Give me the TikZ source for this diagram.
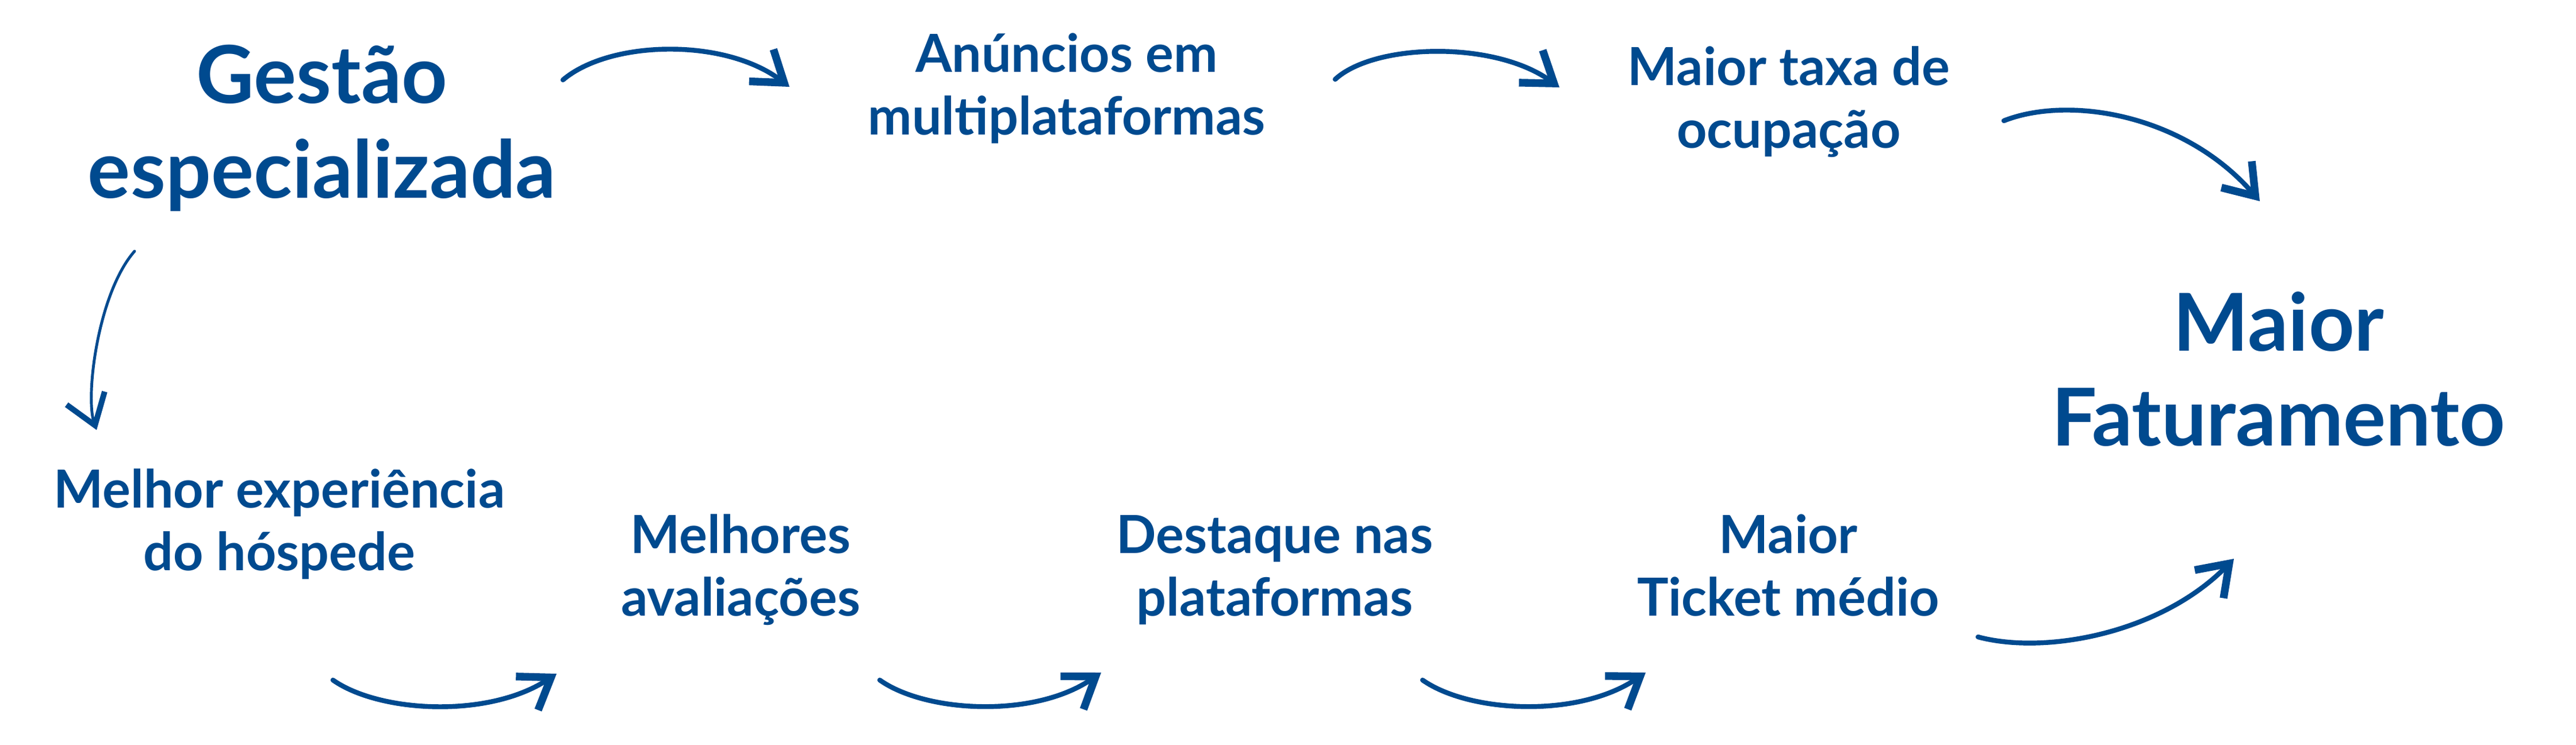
\documentclass[tikz,border=0pt]{standalone}
\usepackage{fontspec}
\setmainfont{Lato}
\usetikzlibrary{arrows.meta}
\definecolor{azul}{HTML}{004A8F}

\begin{document}
\begin{tikzpicture}[
    titulo/.style={text=azul, font=\bfseries\fontsize{39.5}{46.7}\selectfont, align=center, anchor=base, inner sep=0pt},
    etapa/.style={text=azul, font=\bfseries\fontsize{26}{30.8}\selectfont, align=center, anchor=base, inner sep=0pt},
    seta/.style={draw=azul, line width=2.4pt, line cap=round, line join=round, -{Straight Barb[length=0.5cm, width=0.7cm, line width=1.4pt 1]}}]
    \fill[white] (0,0) rectangle (44.8,-12.95);
    \useasboundingbox (0,0) rectangle (44.8,-12.95);

    % textos (ancorados na linha de base da ultima linha)
    \node[titulo] (gestao) at (5.60,-3.44) {Gestão\\especializada};
    \node[etapa] (anuncios) at (18.55,-2.34) {Anúncios em\\multiplataformas};
    \node[etapa] (taxa) at (31.11,-2.57) {Maior taxa de\\ocupação};
    \node[titulo] (faturamento) at (39.63,-7.75) {Maior\\Faturamento};
    \node[etapa] (experiencia) at (4.86,-9.92) {Melhor experiência\\do hóspede};
    \node[etapa] (avaliacoes) at (12.88,-10.71) {Melhores\\avaliações};
    \node[etapa] (destaque) at (22.17,-10.71) {Destaque nas\\plataformas};
    \node[etapa] (ticket) at (31.10,-10.71) {Maior\\Ticket médio};

    % pontas das setas
    \coordinate (s1a) at (9.79,-1.39);  \coordinate (s1b) at (13.73,-1.51);
    \coordinate (s2a) at (23.22,-1.38); \coordinate (s2b) at (27.12,-1.52);
    \coordinate (s3a) at (34.85,-2.10); \coordinate (s3b) at (39.30,-3.50);
    \coordinate (s4a) at (2.34,-4.37);  \coordinate (s4b) at (1.68,-7.48);
    \coordinate (s5a) at (5.79,-11.83); \coordinate (s5b) at (9.68,-11.72);
    \coordinate (s6a) at (15.30,-11.83); \coordinate (s6b) at (19.15,-11.70);
    \coordinate (s7a) at (24.74,-11.83); \coordinate (s7b) at (28.62,-11.70);
    \coordinate (s8a) at (34.40,-11.08); \coordinate (s8b) at (38.85,-9.72);

    \draw[seta] (s1a) .. controls (10.6,-0.70) and (12.6,-0.65) .. (s1b);
    \draw[seta] (s2a) .. controls (23.9,-0.75) and (26.0,-0.70) .. (s2b);
    \draw[seta] (s3a) .. controls (36.0,-1.65) and (38.0,-2.00) .. (s3b);
    \draw[seta, line width=1.4pt] (s4a) .. controls (1.70,-5.10) and (1.48,-6.90) .. (s4b);
    \draw[seta] (s5a) .. controls (6.60,-12.40) and (8.50,-12.50) .. (s5b);
    \draw[seta] (s6a) .. controls (16.10,-12.40) and (18.00,-12.50) .. (s6b);
    \draw[seta] (s7a) .. controls (25.55,-12.40) and (27.45,-12.50) .. (s7b);
    \draw[seta] (s8a) .. controls (35.60,-11.40) and (37.60,-11.00) .. (s8b);
\end{tikzpicture}
\end{document}
